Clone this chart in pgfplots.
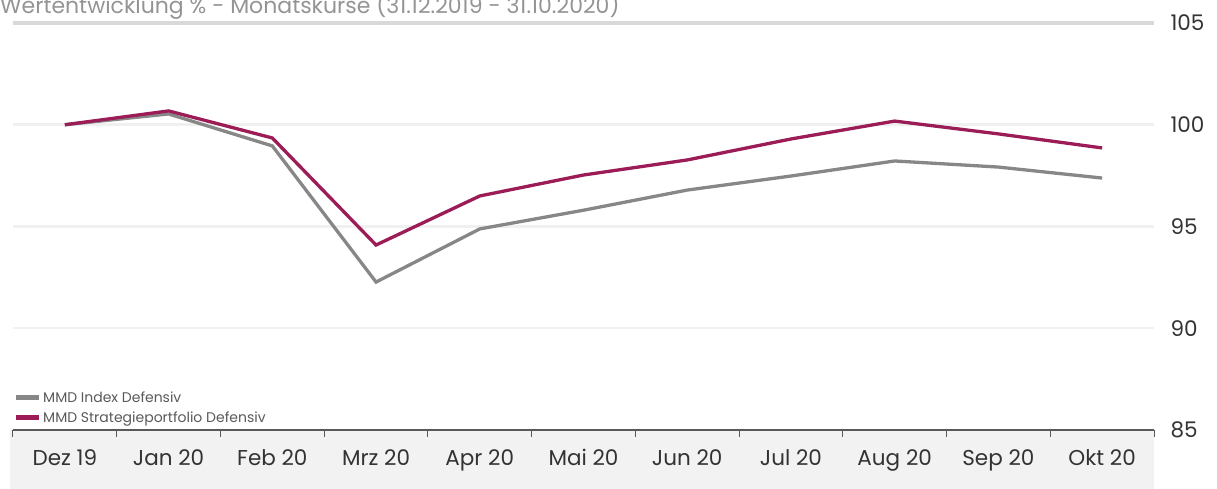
\documentclass[border=0pt]{standalone}
\usepackage{pgfplots}
\pgfplotsset{compat=1.18}
\usepackage{fontspec}
\setmainfont{Poppins}
\definecolor{idx}{HTML}{878787}
\definecolor{strat}{HTML}{9B1C56}
\definecolor{txt}{HTML}{333333}
\definecolor{band}{HTML}{F2F2F2}
\begin{document}
\begin{tikzpicture}[x=1pt,y=1pt]
\useasboundingbox (0pt,0pt) rectangle (1217pt,489pt);
\fill[band] (10pt,0pt) rectangle (1154pt,59pt);
\node[anchor=base west, inner sep=0, font=\fontsize{22}{26}\selectfont, text=black!42] at (0pt,475pt) {Wertentwicklung \% - Monatskurse (31.12.2019 - 31.10.2020)};
\begin{axis}[
  at={(13pt,59pt)}, anchor=south west,
  scale only axis, width=1141pt, height=407pt,
  xmin=-0.5, xmax=10.5, ymin=85, ymax=105,
  xtick={0,...,10},
  xticklabels={Dez 19,Jan 20,Feb 20,Mrz 20,Apr 20,Mai 20,Jun 20,Jul 20,Aug 20,Sep 20,Okt 20},
  minor xtick={-0.5,0.5,...,10.5},
  major tick length=0pt, minor tick length=7pt,
  tick align=outside, xtick pos=bottom,
  minor tick style={draw=black!65, line width=1pt},
  ytick={85,90,95,100},
  extra y ticks={105},
  extra y tick style={grid style={draw=black!15, line width=3.5pt}},
  ymajorgrids, grid style={draw=black!6, line width=2.5pt},
  yticklabel pos=right,
  ytick style={draw=none},
  yticklabel style={anchor=west, xshift=13pt, font=\fontsize{21.5}{25}\selectfont, text=txt, /pgf/number format/assume math mode=true},
  xticklabel style={yshift=-16pt, font=\fontsize{21.5}{25}\selectfont, text=txt},
  axis line style={draw=none},
  clip=false,
  legend style={at={(rel axis cs:0,0.1)}, anchor=north west, draw=none, fill=none, inner sep=0pt, row sep=4pt,
    font=\fontsize{14}{16}\selectfont, text=black!65, cells={anchor=west}},
  legend image code/.code={\draw[#1, line width=5pt] (-1pt,0pt) -- (22pt,0pt);},
  legend cell align=left,
]
\draw[black!65, line width=1.2pt] (rel axis cs:0,0) -- (rel axis cs:1,0);
\addplot[idx, line width=3.3pt] coordinates {(0,100) (1,100.53) (2,98.96) (3,92.27) (4,94.88) (5,95.8) (6,96.79) (7,97.48) (8,98.22) (9,97.92) (10,97.38)};
\addlegendentry{MMD Index Defensiv}
\addplot[strat, line width=3.3pt] coordinates {(0,100) (1,100.68) (2,99.35) (3,94.09) (4,96.5) (5,97.53) (6,98.27) (7,99.3) (8,100.18) (9,99.55) (10,98.86)};
\addlegendentry{MMD Strategieportfolio Defensiv}
\end{axis}
\end{tikzpicture}
\end{document}
